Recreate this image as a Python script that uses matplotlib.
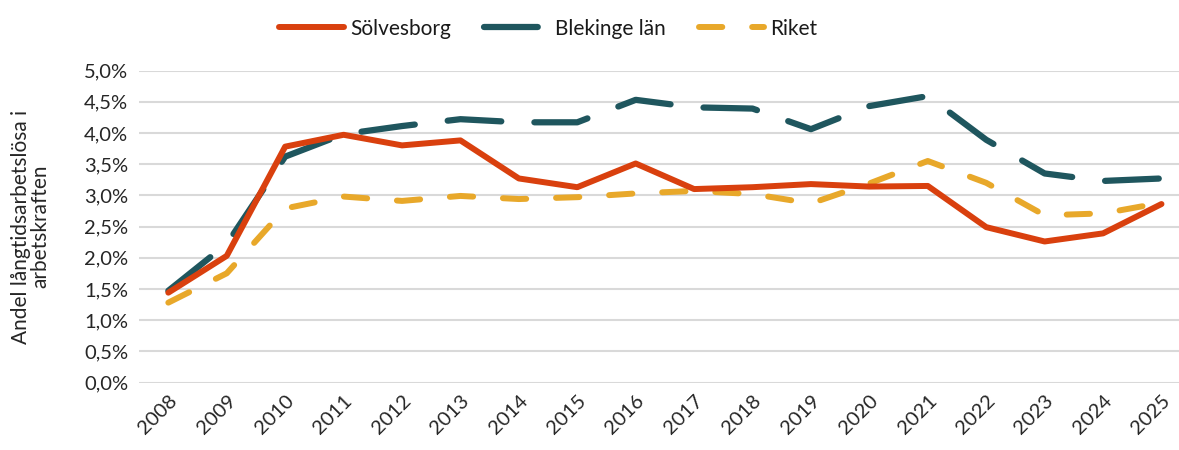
import matplotlib.pyplot as plt
from matplotlib.ticker import FuncFormatter

plt.rcParams['font.family'] = ['Lato', 'DejaVu Sans']

years = [str(y) for y in range(2008, 2026)]
solvesborg = [1.44, 2.03, 3.78, 3.97, 3.80, 3.88, 3.27, 3.13, 3.51, 3.10,
              3.13, 3.18, 3.14, 3.15, 2.49, 2.26, 2.39, 2.86]
blekinge = [1.47, 2.22, 3.62, 3.98, 4.11, 4.22, 4.17, 4.17, 4.53, 4.41,
            4.39, 4.06, 4.43, 4.59, 3.89, 3.35, 3.23, 3.27]
riket = [1.28, 1.75, 2.79, 2.98, 2.91, 2.99, 2.94, 2.97, 3.03, 3.07,
         3.02, 2.87, 3.19, 3.55, 3.20, 2.68, 2.71, 2.88]

fig = plt.figure(figsize=(11.79, 4.5), dpi=100)
ax = fig.add_axes([0.118, 0.15, 0.882, 0.6933])

x = list(range(len(years)))
ax.plot(x, solvesborg, color='#d9400e', lw=4.3, solid_capstyle='round',
        solid_joinstyle='round', label='Sölvesborg', zorder=3)
ax.plot(x, blekinge, color='#1f565e', lw=4.5, dashes=(8.6, 5.3),
        dash_capstyle='round', dash_joinstyle='round', label='Blekinge län', zorder=2)
ax.plot(x, riket, color='#e8a82a', lw=4.3, dashes=(3.9, 5.0),
        dash_capstyle='round', dash_joinstyle='round', label='Riket', zorder=2)

ax.set_xlim(-0.5, 17.3)
ax.set_ylim(0, 5.0)
ax.set_yticks([i * 0.5 for i in range(11)])
ax.yaxis.set_major_formatter(FuncFormatter(lambda v, p: f'{v:.1f}%'.replace('.', ',')))
ax.set_xticks(x)
ax.set_xticklabels(years, rotation=45, ha='right', rotation_mode='anchor')
ax.tick_params(axis='both', length=0, labelsize=14.5, colors='#262626', pad=8)
ax.tick_params(axis='x', pad=7)
ax.grid(axis='y', color='#d9d9d9', lw=1.5)
ax.set_axisbelow(True)
for s in ax.spines.values():
    s.set_visible(False)

ax.set_ylabel('Andel långtidsarbetslösa i\narbetskraften', fontsize=15,
              color='#262626', labelpad=24, linespacing=0.95)

fig.legend(loc='upper center', bbox_to_anchor=(0.465, 1.0), ncol=3, frameon=False,
           fontsize=15, handlelength=3.1, columnspacing=1.6, handletextpad=0.3,
           labelcolor='#1a1a1a')

fig.savefig('out.png', dpi=100)
